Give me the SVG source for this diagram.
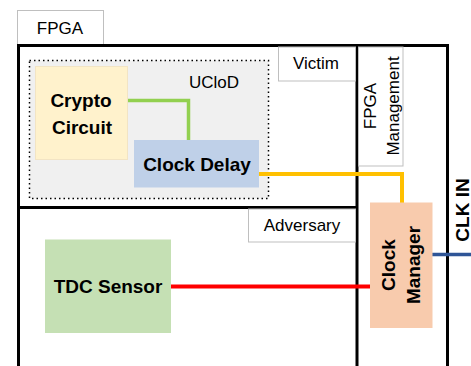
<svg xmlns="http://www.w3.org/2000/svg" width="471" height="366" viewBox="0 0 471 366">
  <style>
    .tab { fill: #ffffff; stroke: #bfbfbf; stroke-width: 1; }
    .wall { fill: none; stroke: #000000; stroke-width: 3; }
    .lbl { font-family: "Liberation Sans", Arial, sans-serif; font-size: 17px; fill: #000000; text-anchor: middle; }
    .blk { font-family: "Liberation Sans", Arial, sans-serif; font-size: 19px; font-weight: bold; fill: #000000; text-anchor: middle; }
    .wire { fill: none; stroke-linejoin: miter; }
  </style>

  <rect width="471" height="366" fill="#ffffff"/>

  <!-- FPGA outline and partitions -->
  <g id="fpga">
    <rect class="tab" x="17.5" y="10.5" width="86" height="34"/>
    <text class="lbl" x="60" y="34" font-size="16">FPGA</text>
    <path class="wall" d="M18.5 370 V45.5 H447.5 V370"/>
    <line class="wall" x1="357" y1="45" x2="357" y2="370"/>
    <line class="wall" x1="18" y1="207.5" x2="357" y2="207.5"/>
  </g>

  <g id="victim">
    <rect class="tab" x="278.5" y="47" width="77" height="34"/>
    <text class="lbl" x="316" y="69">Victim</text>
  </g>

  <g id="fpga-management">
    <rect class="tab" x="358.5" y="47" width="44.5" height="119"/>
    <text class="lbl" transform="translate(376 106) rotate(-90)">FPGA</text>
    <text class="lbl" transform="translate(399 106) rotate(-90)">Management</text>
  </g>

  <g id="adversary">
    <rect class="tab" x="248.5" y="209" width="107" height="33"/>
    <text class="lbl" x="302" y="231">Adversary</text>
  </g>

  <g id="ucloD">
    <rect x="29.5" y="60.5" width="239" height="138" fill="#f0f0f0" stroke="#000000" stroke-width="1.5" stroke-dasharray="1.5 3"/>
    <text class="lbl" x="214" y="88">UCloD</text>
  </g>

  <!-- connectors -->
  <g id="connectors">
    <path class="wire" d="M128 100.5 H188.5 V140" stroke="#92d050" stroke-width="3.5"/>
    <path class="wire" d="M259 174 H402 V203" stroke="#ffc000" stroke-width="4"/>
    <line x1="171" y1="286.5" x2="370" y2="286.5" stroke="#ff0000" stroke-width="4"/>
    <line x1="432" y1="254.5" x2="471" y2="254.5" stroke="#2f5597" stroke-width="3.5"/>
  </g>

  <g id="crypto-circuit">
    <rect x="35.5" y="66.5" width="92" height="93" fill="#fff2cc" stroke="#f2e4c4" stroke-width="1"/>
    <text class="blk" x="81" y="106.5">Crypto</text>
    <text class="blk" x="82" y="133.5">Circuit</text>
  </g>

  <g id="clock-delay">
    <rect x="134" y="140" width="125" height="47.5" fill="#bfd0e8"/>
    <text class="blk" x="197" y="171">Clock Delay</text>
  </g>

  <g id="tdc-sensor">
    <rect x="45" y="239.5" width="126" height="93.5" fill="#c5e0b4"/>
    <text class="blk" x="108" y="293">TDC Sensor</text>
  </g>

  <g id="clock-manager">
    <rect x="370" y="202.5" width="62.5" height="125.5" fill="#f8cbad"/>
    <text class="blk" font-size="19.5" transform="translate(395 265) rotate(-90)">Clock</text>
    <text class="blk" font-size="19.5" transform="translate(420 265) rotate(-90)">Manager</text>
  </g>

  <g id="clk-in">
    <text class="blk" transform="translate(468.5 210) rotate(-90)">CLK IN</text>
  </g>
</svg>
